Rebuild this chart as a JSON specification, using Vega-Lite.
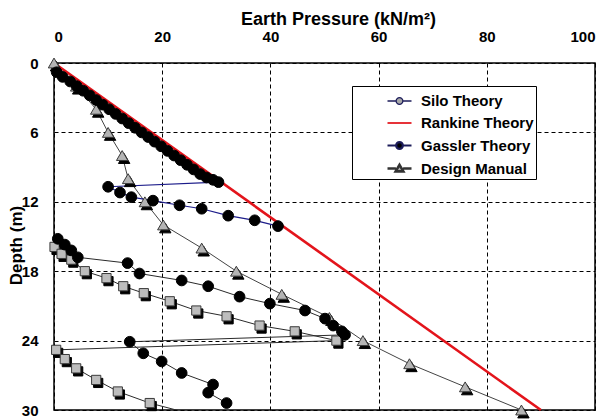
{
  "$schema": "https://vega.github.io/schema/vega-lite/v6.json",
  "width": 541,
  "height": 347,
  "autosize": "none",
  "padding": {"left": 54, "top": 63, "right": 13, "bottom": 9},
  "background": "white",
  "config": {
    "view": {"stroke": "black", "strokeWidth": 1.5},
    "font": "Liberation Sans",
    "axis": {
      "grid": true, "gridColor": "black", "gridOpacity": 1, "gridDash": [4, 3], "gridWidth": 1,
      "domain": false, "ticks": false,
      "labelFont": "Liberation Sans", "labelFontWeight": "bold", "labelFontSize": 15, "labelColor": "black",
      "titleFont": "Liberation Sans", "titleFontWeight": "bold", "titleColor": "black"
    },
    "legend": {
      "labelFont": "Liberation Sans", "labelFontWeight": "bold", "labelFontSize": 15, "labelColor": "black"
    }
  },
  "datasets": {
    "pts": [
      {"s": "Rankine Theory", "g": "rk", "p": 0, "d": 0},
      {"s": "Rankine Theory", "g": "rk", "p": 90, "d": 30},

      {"s": "Design Manual", "g": "dm", "p": 0, "d": 0},
      {"s": "Design Manual", "g": "dm", "p": 4.1, "d": 2},
      {"s": "Design Manual", "g": "dm", "p": 7.8, "d": 4},
      {"s": "Design Manual", "g": "dm", "p": 10, "d": 6},
      {"s": "Design Manual", "g": "dm", "p": 12.6, "d": 8},
      {"s": "Design Manual", "g": "dm", "p": 13.7, "d": 10},
      {"s": "Design Manual", "g": "dm", "p": 16.8, "d": 12},
      {"s": "Design Manual", "g": "dm", "p": 20.2, "d": 14},
      {"s": "Design Manual", "g": "dm", "p": 27.3, "d": 16},
      {"s": "Design Manual", "g": "dm", "p": 33.7, "d": 18},
      {"s": "Design Manual", "g": "dm", "p": 42.1, "d": 20},
      {"s": "Design Manual", "g": "dm", "p": 50.9, "d": 22},
      {"s": "Design Manual", "g": "dm", "p": 57.1, "d": 24},
      {"s": "Design Manual", "g": "dm", "p": 65.7, "d": 26},
      {"s": "Design Manual", "g": "dm", "p": 76, "d": 28},
      {"s": "Design Manual", "g": "dm", "p": 86.4, "d": 30},

      {"s": "Gassler Theory", "g": "g1", "p": 0.5, "d": 0.8},
      {"s": "Gassler Theory", "g": "g1", "p": 1.6, "d": 1.2},
      {"s": "Gassler Theory", "g": "g1", "p": 3.0, "d": 1.6},
      {"s": "Gassler Theory", "g": "g1", "p": 4.2, "d": 2.0},
      {"s": "Gassler Theory", "g": "g1", "p": 5.4, "d": 2.4},
      {"s": "Gassler Theory", "g": "g1", "p": 6.6, "d": 2.8},
      {"s": "Gassler Theory", "g": "g1", "p": 7.8, "d": 3.2},
      {"s": "Gassler Theory", "g": "g1", "p": 9.0, "d": 3.6},
      {"s": "Gassler Theory", "g": "g1", "p": 10.2, "d": 4.0},
      {"s": "Gassler Theory", "g": "g1", "p": 11.4, "d": 4.4},
      {"s": "Gassler Theory", "g": "g1", "p": 12.6, "d": 4.8},
      {"s": "Gassler Theory", "g": "g1", "p": 13.8, "d": 5.2},
      {"s": "Gassler Theory", "g": "g1", "p": 15.0, "d": 5.6},
      {"s": "Gassler Theory", "g": "g1", "p": 16.2, "d": 6.0},
      {"s": "Gassler Theory", "g": "g1", "p": 17.4, "d": 6.4},
      {"s": "Gassler Theory", "g": "g1", "p": 18.6, "d": 6.8},
      {"s": "Gassler Theory", "g": "g1", "p": 19.8, "d": 7.2},
      {"s": "Gassler Theory", "g": "g1", "p": 21.0, "d": 7.6},
      {"s": "Gassler Theory", "g": "g1", "p": 22.2, "d": 8.0},
      {"s": "Gassler Theory", "g": "g1", "p": 23.4, "d": 8.4},
      {"s": "Gassler Theory", "g": "g1", "p": 24.6, "d": 8.8},
      {"s": "Gassler Theory", "g": "g1", "p": 25.8, "d": 9.2},
      {"s": "Gassler Theory", "g": "g1", "p": 27.0, "d": 9.6},
      {"s": "Gassler Theory", "g": "g1", "p": 28.2, "d": 9.9},
      {"s": "Gassler Theory", "g": "g1", "p": 29.4, "d": 10.1},
      {"s": "Gassler Theory", "g": "g1", "p": 30.4, "d": 10.3},
      {"s": "Gassler Theory", "g": "g1", "p": 10, "d": 10.7},
      {"s": "Gassler Theory", "g": "g1", "p": 12.2, "d": 11.2},
      {"s": "Gassler Theory", "g": "g1", "p": 14.3, "d": 11.6},
      {"s": "Gassler Theory", "g": "g1", "p": 18.3, "d": 11.9},
      {"s": "Gassler Theory", "g": "g1", "p": 23.2, "d": 12.3},
      {"s": "Gassler Theory", "g": "g1", "p": 27.3, "d": 12.6},
      {"s": "Gassler Theory", "g": "g1", "p": 32.2, "d": 13.2},
      {"s": "Gassler Theory", "g": "g1", "p": 37.1, "d": 13.6},
      {"s": "Gassler Theory", "g": "g1", "p": 41.4, "d": 14.1},

      {"s": "Gassler Theory", "g": "g2", "p": 0.7, "d": 15.2},
      {"s": "Gassler Theory", "g": "g2", "p": 2.0, "d": 15.7},
      {"s": "Gassler Theory", "g": "g2", "p": 3.2, "d": 16.2},
      {"s": "Gassler Theory", "g": "g2", "p": 4.4, "d": 16.8},
      {"s": "Gassler Theory", "g": "g2", "p": 13.6, "d": 17.3},
      {"s": "Gassler Theory", "g": "g2", "p": 15.8, "d": 18.2},
      {"s": "Gassler Theory", "g": "g2", "p": 23.6, "d": 18.8},
      {"s": "Gassler Theory", "g": "g2", "p": 28.5, "d": 19.3},
      {"s": "Gassler Theory", "g": "g2", "p": 34.3, "d": 20.2},
      {"s": "Gassler Theory", "g": "g2", "p": 39.9, "d": 20.8},
      {"s": "Gassler Theory", "g": "g2", "p": 46.4, "d": 21.4},
      {"s": "Gassler Theory", "g": "g2", "p": 50.1, "d": 22.1},
      {"s": "Gassler Theory", "g": "g2", "p": 51.6, "d": 22.7},
      {"s": "Gassler Theory", "g": "g2", "p": 53.2, "d": 23.2},
      {"s": "Gassler Theory", "g": "g2", "p": 53.8, "d": 23.5},
      {"s": "Gassler Theory", "g": "g2", "p": 14, "d": 24.1},
      {"s": "Gassler Theory", "g": "g2", "p": 16.5, "d": 25.1},
      {"s": "Gassler Theory", "g": "g2", "p": 19.9, "d": 25.8},
      {"s": "Gassler Theory", "g": "g2", "p": 23.6, "d": 26.8},
      {"s": "Gassler Theory", "g": "g2", "p": 29.4, "d": 27.8},
      {"s": "Gassler Theory", "g": "g2", "p": 28.5, "d": 28.5},
      {"s": "Gassler Theory", "g": "g2", "p": 31.9, "d": 29.4},

      {"s": "Silo Theory", "g": "s1", "p": 0.1, "d": 15.9},
      {"s": "Silo Theory", "g": "s1", "p": 1.4, "d": 16.5},
      {"s": "Silo Theory", "g": "s1", "p": 3.2, "d": 17.0},
      {"s": "Silo Theory", "g": "s1", "p": 5.7, "d": 18.0},
      {"s": "Silo Theory", "g": "s1", "p": 9.7, "d": 18.6},
      {"s": "Silo Theory", "g": "s1", "p": 12.8, "d": 19.3},
      {"s": "Silo Theory", "g": "s1", "p": 16.6, "d": 19.9},
      {"s": "Silo Theory", "g": "s1", "p": 21.4, "d": 20.6},
      {"s": "Silo Theory", "g": "s1", "p": 26.3, "d": 21.4},
      {"s": "Silo Theory", "g": "s1", "p": 31.9, "d": 21.9},
      {"s": "Silo Theory", "g": "s1", "p": 38, "d": 22.7},
      {"s": "Silo Theory", "g": "s1", "p": 44.5, "d": 23.2},
      {"s": "Silo Theory", "g": "s1", "p": 52.2, "d": 24.0},
      {"s": "Silo Theory", "g": "s1", "p": 0.4, "d": 24.8},
      {"s": "Silo Theory", "g": "s1", "p": 2.0, "d": 25.6},
      {"s": "Silo Theory", "g": "s1", "p": 4.1, "d": 26.4},
      {"s": "Silo Theory", "g": "s1", "p": 7.8, "d": 27.4},
      {"s": "Silo Theory", "g": "s1", "p": 11.8, "d": 28.4},
      {"s": "Silo Theory", "g": "s1", "p": 17.7, "d": 29.4},
      {"s": "Silo Theory", "g": "s1", "p": 27.5, "d": 30.6}
    ]
  },
  "data": {"name": "pts"},
  "encoding": {
    "x": {"field": "p", "type": "quantitative",
      "scale": {"domain": [0, 100], "nice": false, "zero": false},
      "axis": {"orient": "top", "title": "Earth Pressure (kN/m²)", "values": [0, 20, 40, 60, 80, 100],
        "labelPadding": 19, "titleFontSize": 18, "titleX": 284, "titleY": -39, "titleBaseline": "alphabetic"}},
    "y": {"field": "d", "type": "quantitative",
      "scale": {"domain": [0, 30], "reverse": true, "nice": false, "zero": false},
      "axis": {"title": "Depth (m)", "values": [0, 6, 12, 18, 24, 30], "labelPadding": 16,
        "titleFontSize": 17, "titleX": -38, "titleY": 182, "titleAngle": 270, "titleBaseline": "middle", "titleAlign": "center"}}
  },
  "layer": [
    {"transform": [{"filter": "datum.g == 'rk'"}],
     "mark": {"type": "line", "color": "#e3141b", "strokeWidth": 2.6},
     "encoding": {"order": {"value": null}}},
    {"transform": [{"filter": "datum.g == 'dm'"}],
     "mark": {"type": "line", "color": "#444444", "strokeWidth": 1},
     "encoding": {"order": {"value": null}}},
    {"transform": [{"filter": "datum.g == 's1'"}],
     "mark": {"type": "line", "color": "#2a2a2a", "strokeWidth": 1, "clip": true},
     "encoding": {"order": {"value": null}}},
    {"transform": [{"filter": "datum.g == 'g1'"}],
     "mark": {"type": "line", "color": "#1c1c8a", "strokeWidth": 1.2},
     "encoding": {"order": {"value": null}}},
    {"transform": [{"filter": "datum.g == 'g2'"}],
     "mark": {"type": "line", "color": "#2a2a2a", "strokeWidth": 1},
     "encoding": {"order": {"value": null}}},
    {"transform": [{"filter": "datum.g == 'dm'"}],
     "mark": {"type": "point", "shape": "triangle-up", "filled": true, "opacity": 1, "fill": "black", "stroke": "black", "strokeWidth": 1, "size": 130, "xOffset": 2, "yOffset": 3}},
    {"transform": [{"filter": "datum.g == 's1' && datum.d <= 30"}],
     "mark": {"type": "point", "shape": "square", "filled": true, "opacity": 1, "fill": "black", "stroke": "black", "strokeWidth": 1, "size": 85, "xOffset": 2, "yOffset": 3}},
    {"transform": [{"filter": "datum.g == 'dm'"}],
     "mark": {"type": "point", "shape": "triangle-up", "filled": true, "opacity": 1, "fill": "#b4b4b4", "stroke": "#3a3a3a", "strokeWidth": 1, "size": 130}},
    {"transform": [{"filter": "datum.g == 's1' && datum.d <= 30"}],
     "mark": {"type": "point", "shape": "square", "filled": true, "opacity": 1, "fill": "#bdbdbd", "stroke": "#3a3a3a", "strokeWidth": 1, "size": 85}},
    {"transform": [{"filter": "datum.g == 'g1' || datum.g == 'g2'"}],
     "mark": {"type": "point", "shape": "circle", "filled": true, "opacity": 1, "fill": "black", "stroke": "black", "strokeWidth": 1, "size": 115}},
    {"transform": [{"filter": "false"}],
     "mark": {"type": "point", "filled": true, "opacity": 1},
     "encoding": {
       "shape": {"field": "s", "type": "nominal",
         "scale": {"domain": ["Silo Theory", "Rankine Theory", "Gassler Theory", "Design Manual"],
           "range": [
             "M-1,0H-0.28M0.28,0H1M-0.28,0A0.28,0.28,0,1,1,0.28,0A0.28,0.28,0,1,1,-0.28,0Z",
             "M-1,0H1",
             "M-1,0H-0.28M0.28,0H1M-0.28,0A0.28,0.28,0,1,1,0.28,0A0.28,0.28,0,1,1,-0.28,0Z",
             "M-1,0H-0.3M0.3,0H1M0,-0.3L0.32,0.24L-0.32,0.24Z"]},
         "legend": {"title": null, "orient": "none", "legendX": 298, "legendY": 23,
           "strokeColor": "black", "fillColor": "white", "padding": 2, "symbolOffset": 32,
           "rowPadding": 1, "symbolSize": 576, "labelOffset": 8}},
       "stroke": {"field": "s", "type": "nominal",
         "scale": {"domain": ["Silo Theory", "Rankine Theory", "Gassler Theory", "Design Manual"],
           "range": ["#1c1c5a", "#e3141b", "#1c1c5a", "#333333"]}},
       "fill": {"field": "s", "type": "nominal",
         "scale": {"domain": ["Silo Theory", "Rankine Theory", "Gassler Theory", "Design Manual"],
           "range": ["#a8a8a8", "transparent", "#000000", "#b4b4b4"]}},
       "strokeWidth": {"field": "s", "type": "nominal",
         "scale": {"domain": ["Silo Theory", "Rankine Theory", "Gassler Theory", "Design Manual"],
           "range": [1.3, 2.6, 1.3, 1.3]}}
     }}
  ]
}
